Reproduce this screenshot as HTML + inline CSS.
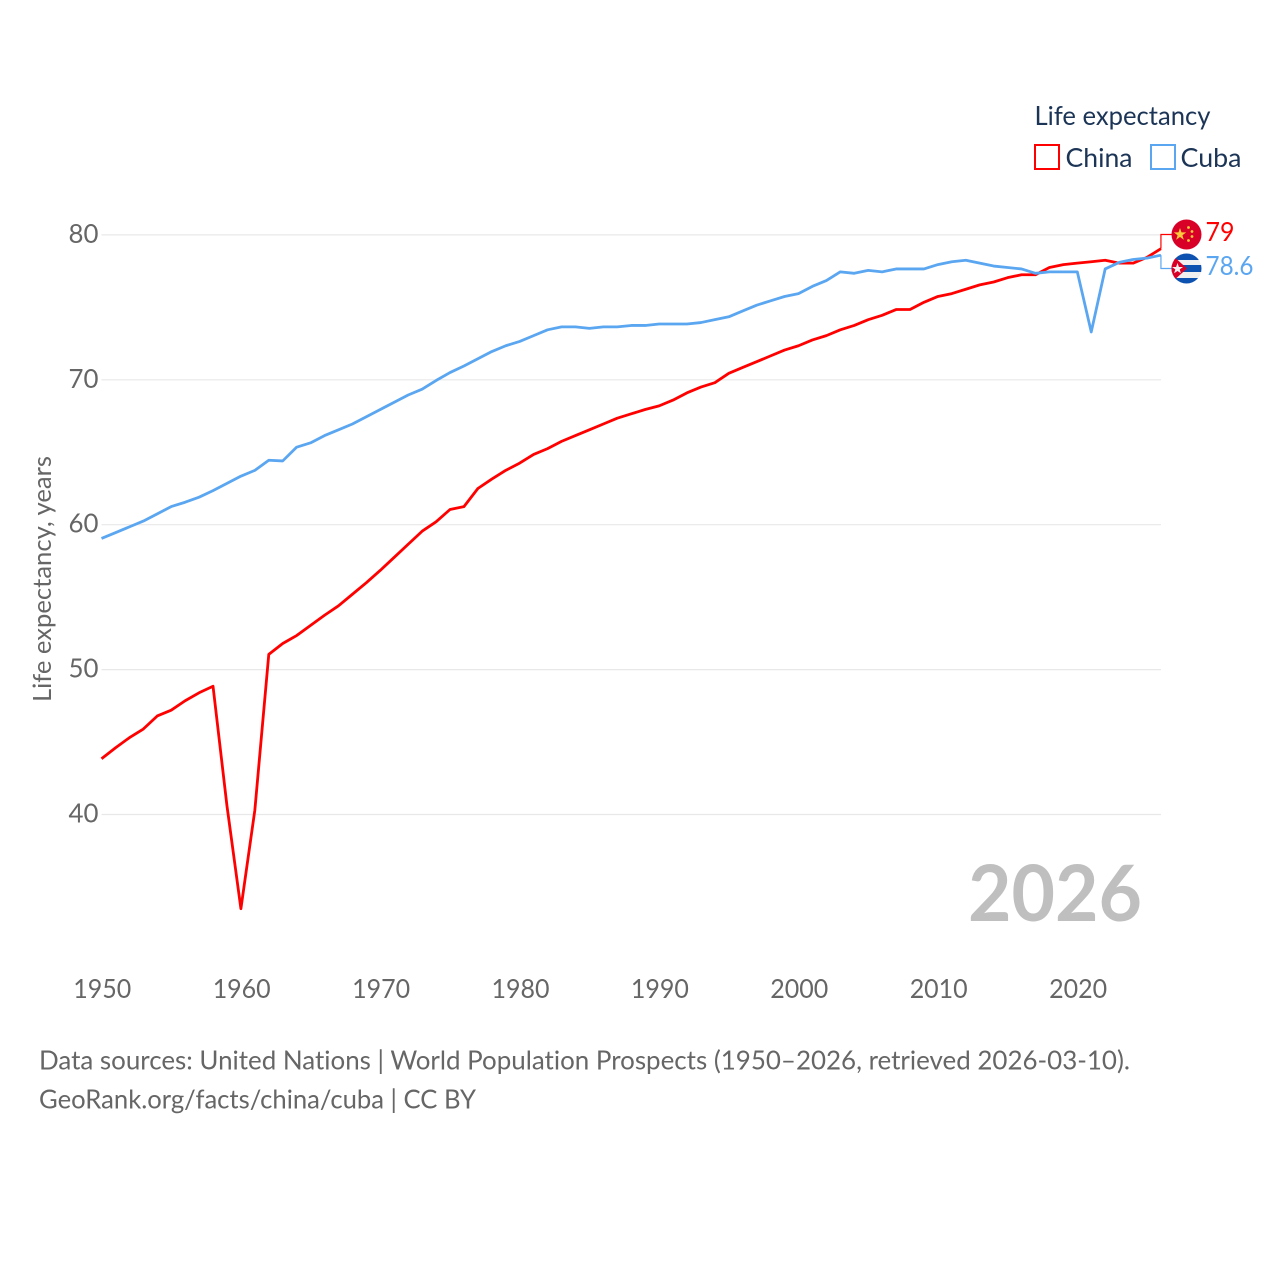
<!DOCTYPE html>
<html lang="en">
<head>
<meta charset="utf-8">
<title>Life expectancy: China and Cuba</title>
<style>
html,body{margin:0;padding:0;background:#fff;}
svg{display:block;}
text{font-family:"Lato","Carlito","Liberation Sans",sans-serif;font-variant-ligatures:none;}
</style>
</head>
<body>
<svg id="chart" width="1280" height="1280" viewBox="0 0 1280 1280" xmlns="http://www.w3.org/2000/svg">
  <defs>
    <clipPath id="clip-china"><circle cx="1186.5" cy="234.5" r="15"/></clipPath>
    <clipPath id="clip-cuba"><circle cx="1186.5" cy="268.5" r="15"/></clipPath>
  </defs>
  <g id="grid"></g>
  <g id="y-ticks"></g>
  <g id="x-ticks"></g>
  <text transform="translate(51,702) rotate(-90)" font-size="25" fill="#666" textLength="246" lengthAdjust="spacingAndGlyphs">Life expectancy, years</text>
  <text x="968" y="921" font-size="78" font-weight="700" fill="#bfbfbf" textLength="174" lengthAdjust="spacingAndGlyphs">2026</text>
  <polyline id="line-china" fill="none" stroke="#ff0000" stroke-width="2.8" stroke-linejoin="round"></polyline>
  <polyline id="line-cuba" fill="none" stroke="#5ba6f0" stroke-width="2.8" stroke-linejoin="round"></polyline>
  <polyline id="connector-china" fill="none" stroke="#ff0000" stroke-width="1.2"></polyline>
  <polyline id="connector-cuba" fill="none" stroke="#5ba6f0" stroke-width="1.2"></polyline>

  <g clip-path="url(#clip-china)">
    <rect x="1171" y="219" width="31" height="31" fill="#d80027"/>
    <polygon points="1180,228 1181.5,232.4 1186.2,232.4 1182.4,235.2 1183.8,239.7 1180,237 1176.2,239.7 1177.6,235.2 1173.8,232.4 1178.5,232.4" fill="#ffc93b"/>
    <circle cx="1188.5" cy="227.5" r="1.4" fill="#ffc93b"/>
    <circle cx="1192" cy="231.5" r="1.4" fill="#ffc93b"/>
    <circle cx="1192" cy="236.5" r="1.4" fill="#ffc93b"/>
    <circle cx="1188.5" cy="240.5" r="1.4" fill="#ffc93b"/>
  </g>
  <g clip-path="url(#clip-cuba)">
    <rect x="1171" y="253" width="31" height="31" fill="#f0f0f0"/>
    <rect x="1171" y="253" width="31" height="7" fill="#0d52b0"/>
    <rect x="1171" y="265" width="31" height="7" fill="#0d52b0"/>
    <rect x="1171" y="278" width="31" height="6" fill="#0d52b0"/>
    <polygon points="1171,254 1187,268.5 1171,283" fill="#d80027"/>
    <polygon points="1177.5,263 1178.9,267 1183,267 1179.7,269.4 1180.9,273.3 1177.5,271 1174.1,273.3 1175.3,269.4 1172,267 1176.1,267" fill="#f2f2f2"/>
  </g>

  <text x="1205.5" y="241" font-size="26" fill="#ff0000" textLength="29" lengthAdjust="spacingAndGlyphs">79</text>
  <text x="1205.5" y="275" font-size="26" fill="#5ba6f0" textLength="48" lengthAdjust="spacingAndGlyphs">78.6</text>

  <text x="1034.5" y="125" font-size="26" fill="#1c3557" textLength="176" lengthAdjust="spacingAndGlyphs">Life expectancy</text>
  <g>
    <rect x="1035" y="145" width="24" height="24" fill="none" stroke="#ff0000" stroke-width="2"/>
    <text x="1065.5" y="167" font-size="26" fill="#1c3557" textLength="67" lengthAdjust="spacingAndGlyphs">China</text>
  </g>
  <g>
    <rect x="1151" y="145" width="24" height="24" fill="none" stroke="#5ba6f0" stroke-width="2"/>
    <text x="1180.5" y="167" font-size="26" fill="#1c3557" textLength="61" lengthAdjust="spacingAndGlyphs">Cuba</text>
  </g>

  <text x="39" y="1069.5" font-size="26" fill="#666" textLength="1091" lengthAdjust="spacingAndGlyphs">Data sources: United Nations | World Population Prospects (1950–2026, retrieved 2026-03-10).</text>
  <text x="39" y="1108.5" font-size="26" fill="#666" textLength="437" lengthAdjust="spacingAndGlyphs">GeoRank.org/facts/china/cuba | CC BY</text>
</svg>
<script>
var startYear = 1950;
var chinaValues = [43.85,44.6,45.3,45.9,46.8,47.2,47.85,48.4,48.85,40.6,33.5,40.3,51.05,51.8,52.35,53.05,53.75,54.4,55.2,56.0,56.85,57.75,58.65,59.55,60.2,61.05,61.25,62.5,63.15,63.75,64.25,64.85,65.25,65.75,66.15,66.55,66.95,67.35,67.65,67.95,68.2,68.6,69.1,69.5,69.8,70.45,70.85,71.25,71.65,72.05,72.35,72.75,73.05,73.45,73.75,74.15,74.45,74.85,74.85,75.35,75.75,75.95,76.25,76.55,76.75,77.05,77.25,77.25,77.75,77.95,78.05,78.15,78.25,78.05,78.05,78.45,79.05];
var cubaValues = [59.05,59.45,59.85,60.25,60.75,61.25,61.55,61.9,62.35,62.85,63.35,63.75,64.45,64.4,65.35,65.65,66.15,66.55,66.95,67.45,67.95,68.45,68.95,69.35,69.95,70.5,70.95,71.45,71.95,72.35,72.65,73.05,73.45,73.65,73.65,73.55,73.65,73.65,73.75,73.75,73.85,73.85,73.85,73.95,74.15,74.35,74.75,75.15,75.45,75.75,75.95,76.45,76.85,77.45,77.35,77.55,77.45,77.65,77.65,77.65,77.95,78.15,78.25,78.05,77.85,77.75,77.65,77.35,77.45,77.45,77.45,73.3,77.65,78.1,78.3,78.4,78.6];
var yTickValues = [40,50,60,70,80];
var xTickValues = [1950,1960,1970,1980,1990,2000,2010,2020];

function xScale(year){ return 101.5 + (year - 1950) * 13.94; }
function yScale(v){ return 814.5 - (v - 40) * 14.49; }

var NS = 'http://www.w3.org/2000/svg';
var gridGroup = document.getElementById('grid');
var yGroup = document.getElementById('y-ticks');
var xGroup = document.getElementById('x-ticks');

yTickValues.forEach(function(v){
  var ln = document.createElementNS(NS, 'line');
  
  
  ln.setAttribute('x1', xScale(1950));
  ln.setAttribute('x2', xScale(2026));
  ln.setAttribute('y1', yScale(v));
  ln.setAttribute('y2', yScale(v));
  ln.setAttribute('stroke', '#e8e8e8');
  ln.setAttribute('stroke-width', '1.2');
  gridGroup.appendChild(ln);

  var t = document.createElementNS(NS, 'text');
  
  
  t.setAttribute('x', 98.5);
  t.setAttribute('y', yScale(v) + 8);
  t.setAttribute('text-anchor', 'end');
  t.setAttribute('font-size', '26');
  t.setAttribute('fill', '#666');
  t.setAttribute('textLength', '30');
  t.setAttribute('lengthAdjust', 'spacingAndGlyphs');
  t.textContent = String(v);
  yGroup.appendChild(t);
});

xTickValues.forEach(function(y){
  var t = document.createElementNS(NS, 'text');
  
  
  t.setAttribute('x', xScale(y) + 0.8);
  t.setAttribute('y', 998);
  t.setAttribute('text-anchor', 'middle');
  t.setAttribute('font-size', '26');
  t.setAttribute('fill', '#666');
  t.setAttribute('textLength', '58');
  t.setAttribute('lengthAdjust', 'spacingAndGlyphs');
  t.textContent = String(y);
  xGroup.appendChild(t);
});

function pointsFor(values){
  return values.map(function(v, i){
    return xScale(startYear + i).toFixed(2) + ',' + yScale(v).toFixed(2);
  }).join(' ');
}
document.getElementById('line-china').setAttribute('points', pointsFor(chinaValues));
document.getElementById('line-cuba').setAttribute('points', pointsFor(cubaValues));

var lastX = xScale(startYear + chinaValues.length - 1);
var chinaEndY = yScale(chinaValues[chinaValues.length - 1]);
var cubaEndY = yScale(cubaValues[cubaValues.length - 1]);
document.getElementById('connector-china').setAttribute('points', lastX + ',' + chinaEndY + ' ' + lastX + ',234.5 1172,234.5');
document.getElementById('connector-cuba').setAttribute('points', lastX + ',' + cubaEndY + ' ' + lastX + ',268.5 1172,268.5');
</script>
</body>
</html>
